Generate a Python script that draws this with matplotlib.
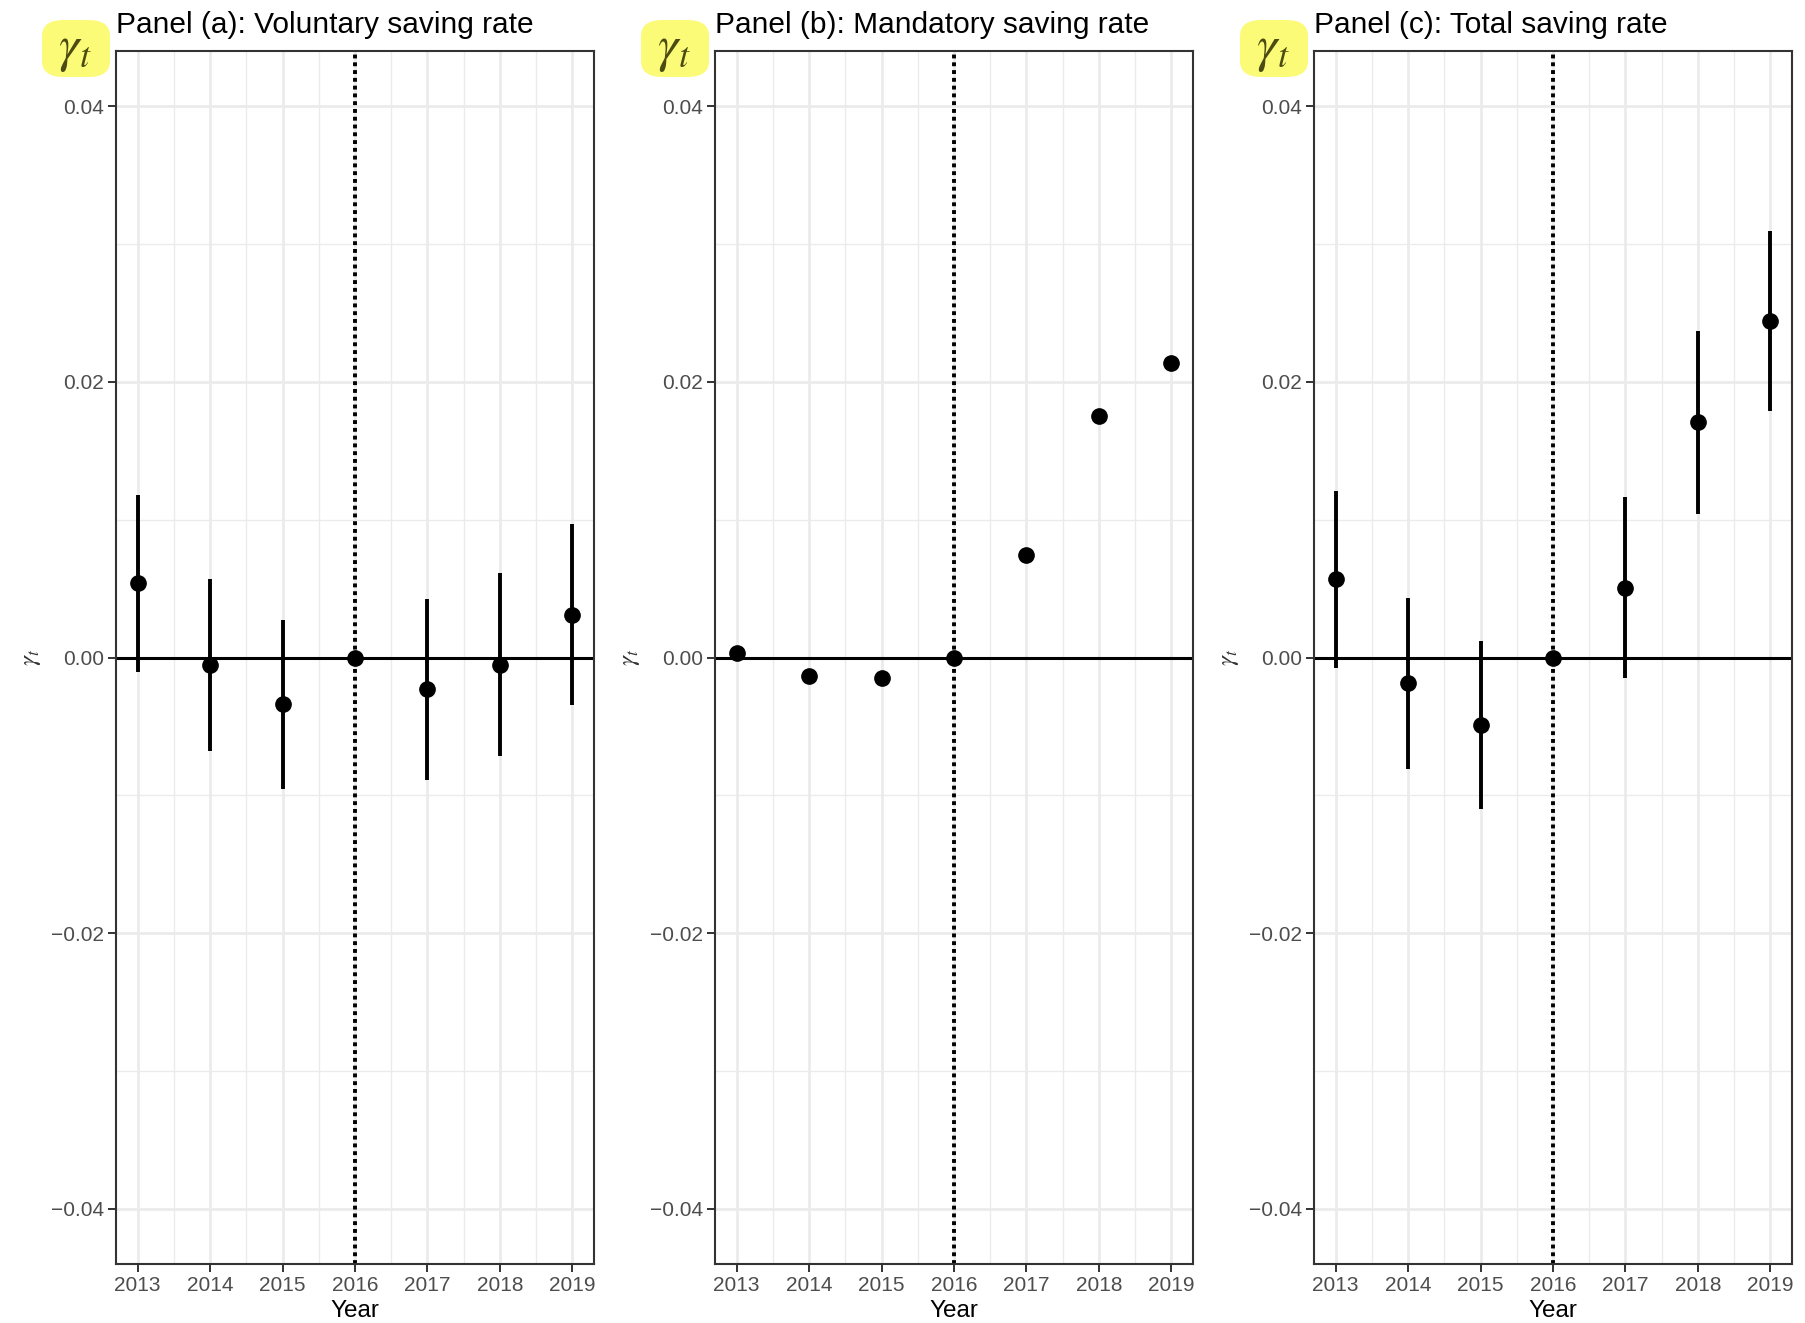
import numpy as np
import matplotlib
matplotlib.use("Agg")
import matplotlib.pyplot as plt
from matplotlib.patches import FancyBboxPatch

plt.rcParams['font.family'] = ['Liberation Sans', 'DejaVu Sans']
plt.rcParams['mathtext.fontset'] = 'stix'

years = [2013, 2014, 2015, 2016, 2017, 2018, 2019]
base_year = 2016

# panel (a): voluntary saving rate
vol_est = [0.00538, -0.00056, -0.00340, 0.0, -0.00230, -0.00056, 0.00306]
vol_lo = [-0.00105, -0.00676, -0.00954, 0.0, -0.00888, -0.00715, -0.00345]
vol_hi = [0.01180, 0.00567, 0.00272, 0.0, 0.00427, 0.00615, 0.00965]

# panel (b): mandatory saving rate (intervals too narrow to show)
man_est = [0.00036, -0.00133, -0.00150, 0.0, 0.00742, 0.01754, 0.02137]

# panel (c): total saving rate
tot_est = [0.00571, -0.00188, -0.00490, 0.0, 0.00506, 0.01706, 0.02438]
tot_lo = [-0.00077, -0.00808, -0.01102, 0.0, -0.00150, 0.01040, 0.01787]
tot_hi = [0.01205, 0.00434, 0.00120, 0.0, 0.01166, 0.02367, 0.03093]

titles = ["Panel (a): Voluntary saving rate",
          "Panel (b): Mandatory saving rate",
          "Panel (c): Total saving rate"]
y_ticks = [-0.04, -0.02, 0.00, 0.02, 0.04]

W, H = 1806, 1323
fig = plt.figure(figsize=(W / 100, H / 100), dpi=100)

panels = [(vol_est, vol_lo, vol_hi), (man_est, None, None), (tot_est, tot_lo, tot_hi)]
lefts = [116, 715, 1314]
grid_col = '#EBEBEB'

for i, (est, lo, hi) in enumerate(panels):
    ax = fig.add_axes([lefts[i] / W, 1 - 1264 / H, 478 / W, (1264 - 51) / H])
    ax.set_xlim(2012.7, 2019.3)
    ax.set_ylim(-0.044, 0.044)
    ax.set_xticks(years)
    ax.set_xticks(np.array(years[:-1]) + 0.5, minor=True)
    ax.set_yticks(y_ticks)
    ax.set_yticks([-0.03, -0.01, 0.01, 0.03], minor=True)
    ax.set_yticklabels(["\u22120.04", "\u22120.02", "0.00", "0.02", "0.04"])
    ax.grid(which='major', color=grid_col, lw=2.0, zorder=0)
    ax.grid(which='minor', color=grid_col, lw=1.0, zorder=0)
    ax.set_axisbelow(True)
    ax.tick_params(which='major', length=5.5, width=1.4, color='#333333',
                   labelsize=15, labelcolor='#4D4D4D', pad=3)
    ax.tick_params(which='minor', length=0)
    for sp in ax.spines.values():
        sp.set_color('#333333')
        sp.set_linewidth(1.5)

    ax.axhline(0, color='black', lw=2.2, zorder=2)
    ax.axvline(base_year, color='black', lw=2.8, ls=(0, (1, 1)), zorder=2)

    if lo is not None:
        ax.vlines(years, lo, hi, color='black', lw=2.8, zorder=3)
    ax.plot(years, est, 'o', color='black', ms=11, zorder=4)

    ax.set_title(titles[i], loc='left', fontsize=21.5, pad=13)
    ax.set_xlabel("Year", fontsize=17.5, labelpad=4)
    ax.set_ylabel(r'$\gamma_t$', fontsize=18, labelpad=6, color='#333333')

    # highlighted gamma_t marker at the top-left corner of each panel
    x0 = lefts[i] - 74
    blob = FancyBboxPatch(((x0) / W, 1 - 77 / H), 68 / W, 57 / H,
                          boxstyle="round,pad=0,rounding_size=0.012",
                          transform=fig.transFigure, facecolor='#FBFB78',
                          edgecolor='none', zorder=0)
    fig.patches.append(blob)
    fig.text((x0 + 33) / W, 1 - 50 / H, r'$\gamma_t$', fontsize=37,
             color='#4C4C12', ha='center', va='center')

fig.savefig("out.png", dpi=100)
